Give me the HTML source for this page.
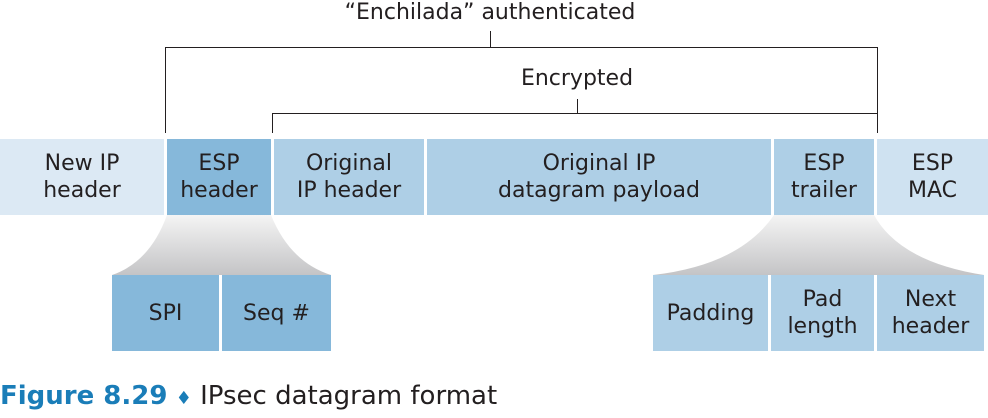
<!DOCTYPE html>
<html><head><meta charset="utf-8">
<style>
body{margin:0;width:988px;height:418px;background:#fff;position:relative;overflow:hidden;font-family:"DejaVu Sans","Liberation Sans",sans-serif;color:#231f20}
.b{position:absolute;display:flex;align-items:center;justify-content:center;text-align:center;font-size:22px;line-height:27px}
.l{position:absolute;background:#231f20}
.t{position:absolute;font-size:22px;white-space:nowrap}
</style></head><body>
<svg width="988" height="418" style="position:absolute;left:0;top:0">
<defs><linearGradient id="g" x1="0" y1="0" x2="0" y2="1"><stop offset="0" stop-color="#f4f4f4"/><stop offset="1" stop-color="#c4c4c6"/></linearGradient></defs>
<path d="M167 215 Q150 262 112 275 L331 275 Q290 262 271 215 Z" fill="url(#g)"/>
<path d="M774 215 Q740 265 653 275 L984 275 Q900 262 874 215 Z" fill="url(#g)"/>
</svg>
<div class="t" style="left:0;width:980px;text-align:center;top:0px">“Enchilada” authenticated</div>
<div class="l" style="left:490px;top:31px;width:1px;height:16px"></div>
<div class="l" style="left:165px;top:47px;width:713px;height:1px"></div>
<div class="l" style="left:165px;top:47px;width:1px;height:86px"></div>
<div class="l" style="left:877px;top:47px;width:1px;height:86px"></div>
<div class="t" style="left:477px;width:200px;text-align:center;top:66px">Encrypted</div>
<div class="l" style="left:577px;top:99px;width:1px;height:14px"></div>
<div class="l" style="left:272px;top:113px;width:605px;height:1px"></div>
<div class="l" style="left:272px;top:113px;width:1px;height:20px"></div>

<div class="b" style="left:0;top:139px;width:164px;height:76px;background:#dce9f4">New IP<br>header</div>
<div class="b" style="left:167px;top:139px;width:104px;height:76px;background:#86b8da">ESP<br>header</div>
<div class="b" style="left:274px;top:139px;width:150px;height:76px;background:#aecfe6">Original<br>IP header</div>
<div class="b" style="left:427px;top:139px;width:344px;height:76px;background:#aecfe6">Original IP<br>datagram payload</div>
<div class="b" style="left:774px;top:139px;width:100px;height:76px;background:#aecfe6">ESP<br>trailer</div>
<div class="b" style="left:877px;top:139px;width:111px;height:76px;background:#cfe2f1">ESP<br>MAC</div>

<div class="b" style="left:112px;top:275px;width:107px;height:76px;background:#86b8da">SPI</div>
<div class="b" style="left:222px;top:275px;width:109px;height:76px;background:#86b8da">Seq #</div>
<div class="b" style="left:653px;top:275px;width:115px;height:76px;background:#aecfe6">Padding</div>
<div class="b" style="left:771px;top:275px;width:103px;height:76px;background:#aecfe6">Pad<br>length</div>
<div class="b" style="left:877px;top:275px;width:107px;height:76px;background:#aecfe6">Next<br>header</div>

<div class="t" style="left:0;top:381px;font-size:26px"><span style="color:#1a7db8;font-weight:bold">Figure 8.29</span> <span style="color:#1a7db8;font-size:18px">♦</span> IPsec datagram format</div>
</body></html>
